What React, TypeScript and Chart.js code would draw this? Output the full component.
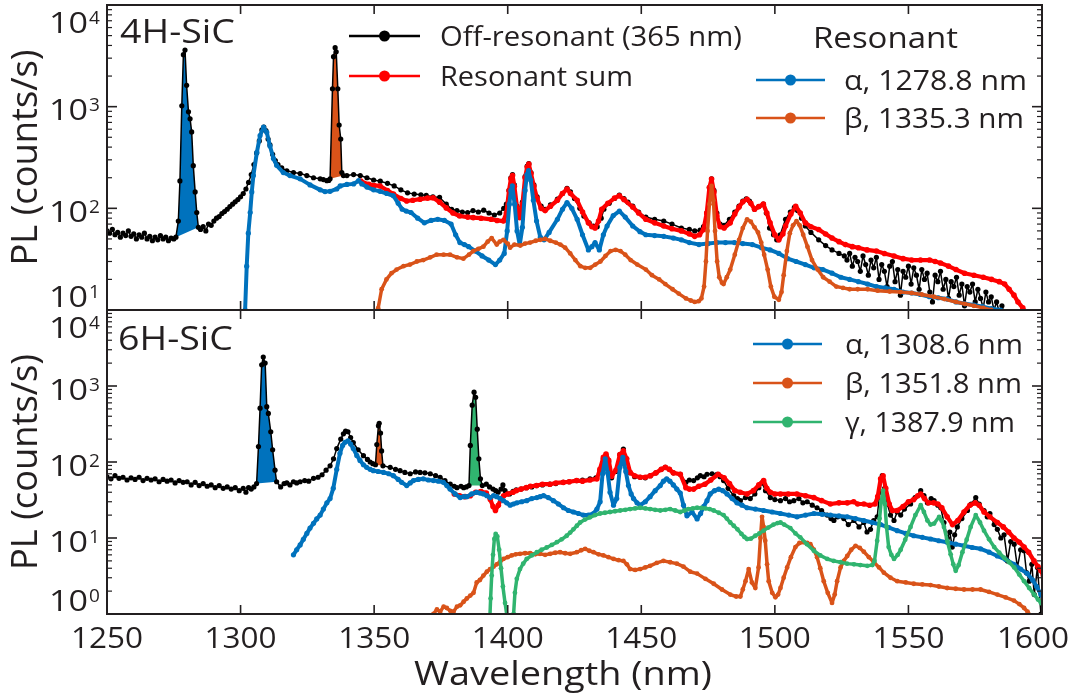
import React, { useEffect, useRef } from 'react';
import { Chart, registerables } from 'chart.js';

Chart.register(...registerables);

type Pt = [number, number];

// ---------- axis ticks / labels ----------
const X_TICKS = [1250, 1300, 1350, 1400, 1450, 1500, 1550, 1600];
const Y_DECADES_4H = [10, 100, 1000, 10000];
const Y_DECADES_6H = [1, 10, 100, 1000, 10000];
const X_TITLE = 'Wavelength (nm)';
const Y_TITLE = 'PL (counts/s)';
const PANEL_4H = '4H-SiC';
const PANEL_6H = '6H-SiC';
const LEGEND_4H_LEFT = ['Off-resonant (365 nm)', 'Resonant sum'];
const LEGEND_TITLE = 'Resonant';
const LEGEND_4H_RIGHT = ['α, 1278.8 nm', 'β, 1335.3 nm'];
const LEGEND_6H = ['α, 1308.6 nm', 'β, 1351.8 nm', 'γ, 1387.9 nm'];

// ---------- 4H-SiC data [nm, counts/s] ----------
const offRes4H: Pt[] = [
  [1250,60],[1251,57],[1252,62],[1253,55],[1254,58],[1255,52],[1256,57],[1257,54],[1258,60],[1259,53],[1260,56],[1261,50],[1262,55],[1263,52],[1264,57],[1265,50],[1266,53],[1267,48],[1268,52],[1269,49],[1270,54],[1271,50],[1272,52],[1273,48],[1274,51],[1275,50],
  [1275.8,52],[1276.7,75],[1277.3,186],[1278,1020],[1278.6,3250],[1279.2,3600],[1279.8,1620],[1280.5,890],[1281.1,760],[1281.7,565],[1282.3,263],[1283,145],[1283.6,91],[1284.2,65],
  [1285,62],[1286,66],[1287,60],[1288,70],[1289,68],[1290,75],[1291,80],[1292,83],[1293,89],[1294,93],[1295,98],[1296,104],[1297,110],[1298,116],[1299,122],[1300,130],[1301,140],[1302,155],[1303,180],[1304,215],[1305,270],[1306,350],[1307,460],[1308,590],[1308.7,630],[1309.5,580],[1310.3,480],[1311,420],[1312,340],[1313,295],[1314,270],[1315.4,250],[1317.3,234],[1319.8,225],[1322.3,220],[1324.8,210],[1327.3,200],[1329.8,195],[1331,192],[1332.3,187],[1333,188],
  [1333.5,195],[1334.4,1500],[1334.8,3100],[1335.4,3800],[1335.8,3460],[1336.4,1500],[1336.9,660],[1337.5,480],[1337.9,225],[1338.5,210],
  [1339.8,210],[1342.3,215],[1344.8,210],[1347.3,200],[1349.8,190],[1352.3,185],[1355,176],[1357.5,166],[1360,152],[1362.5,142],[1365,138],[1367.5,136],[1369.5,134],[1372,130],[1374.5,128],[1377,110],[1379,98],[1381,95],[1383,92],[1385,91],[1387,95],[1389,92],[1391,96],[1393,90],[1395,86],[1397,90],[1398.5,100],[1399.5,110],
  [1400.5,150],[1401.2,200],[1401.8,215],[1402.5,170],[1403.5,105],[1404.5,85],[1405.5,115],[1406.5,205],[1407.3,260],[1407.9,275],[1408.7,225],[1409.8,170],[1411,130],[1412.5,105],[1414,98],[1416,108],[1418.6,123],[1420.5,140],[1422.2,157],[1423.5,145],[1425,125],[1427,100],[1428.5,84],[1430.5,72],[1432,67],[1433.5,66],[1435,80],[1436,98],[1438,112],[1440,125],[1441.8,135],[1443.5,125],[1445,115],[1446.8,105],[1449,92],[1451.7,82],[1455,78],[1458.4,75],[1461.5,70],[1465,64],[1468,62],[1470,60],[1472,61],[1473.3,66],[1474.5,90],[1475.5,160],[1476.3,195],[1477.2,150],[1478.3,90],[1479.5,70],[1481,68],[1483,78],[1485,92],[1486.6,105],[1488,118],[1489.3,124],[1490.5,118],[1492.4,98],[1494,104],[1495.7,110],[1496.8,90],[1498,64],[1499.5,55],[1500.7,49],[1502,55],[1504,78],[1505.8,92],[1507.3,102],[1508.5,95],[1510,80],[1511.4,67],[1513.5,58],[1516.4,49],[1519,43],[1521.4,39],[1524,36],[1526,34],
  [1527,31],[1528,36],[1529,27],[1530,33],[1531,30],[1532,24],[1533,34],[1534,28],[1535,22],[1536,31],[1537,26],[1538,33],[1539,20],[1540,28],[1541,24],[1542,17],[1543,27],[1544,30],[1545,19],[1546,25],[1547,14],[1548,24],[1549,21],[1550,27],[1551,18],[1552,26],[1553,22],[1554,16],[1555,25],[1556,20],[1557,23],[1558,15],[1559,12],[1560,22],[1561,19],[1562,24],[1563,16],[1564,20],[1565,13],[1566,19],[1567,17],[1568,21],[1569,14],[1570,18],[1571,11],[1572,17],[1573,15],[1574,18],[1575,12],[1576,16],[1577,13],[1578,10.5],[1579,15],[1580,12],[1581,13.5],[1582,10],[1583,12],[1584,9.5],[1585,11],[1586,9],
];

const resSum4H: Pt[] = [
  [1345,185],[1348,172],[1350,168],[1352.2,166],[1355,150],[1357.2,138],[1360,125],[1362.2,118],[1364.5,120],[1367.2,123],[1370,126],[1372.1,127],[1374.5,115],[1377,101],[1379.5,90],[1382,84],[1385,82],[1387.1,81],[1390,80],[1393.8,78],[1396,76],[1398.4,75],[1399.5,90],
  [1400.5,150],[1401.2,195],[1401.8,210],[1402.5,165],[1403.5,100],[1404.5,81],[1405.5,110],[1406.5,200],[1407.3,255],[1407.9,272],[1408.7,220],[1409.8,165],[1411,125],[1412.5,100],[1414,95],[1416,105],[1418.6,120],[1420.5,140],[1422.2,155],[1423.5,140],[1426,120],[1428,92],[1430.2,72],[1431.5,66],[1432.7,64],[1434,75],[1435.2,98],[1437.5,112],[1440,126],[1441.8,133],[1443.5,122],[1446.8,103],[1449,90],[1451.7,78],[1455,72],[1458.4,67],[1461.5,63],[1465,60],[1468,56],[1470,53],[1471.8,55],[1473.3,62],[1474.5,90],[1475.5,160],[1476.3,194],[1477.2,145],[1478.3,84],[1479.5,66],[1481,64],[1483.3,72],[1485,88],[1486.6,103],[1488,116],[1489.6,123],[1491,112],[1492.4,98],[1494,104],[1495.7,110],[1497,90],[1498.2,72],[1500,55],[1501.5,49],[1503,56],[1504,67],[1506,88],[1507.8,105],[1509.5,90],[1511.4,72],[1513.5,66],[1516.4,62],[1519,56],[1521.4,51],[1524,47],[1526.4,44],[1529,42],[1531.3,41],[1534.5,39],[1538,38],[1541,36],[1544.6,34],[1548,32],[1551.2,31],[1554.5,31],[1557.9,31],[1560,30],[1562,29],[1565,27],[1567.8,25],[1571,23],[1574.5,22],[1578,21],[1581.1,20],[1584,19],[1586,18],[1587.7,16],[1589.5,14],[1591,12],[1592.8,10.5],[1594.4,9],
];

const alpha4H: Pt[] = [
  [1301.7,10],[1302.3,27],[1302.9,57],[1303.6,91],[1304.2,145],[1304.8,210],[1306.1,355],[1307.3,520],[1308.6,630],[1309.8,560],[1311,410],[1312.3,310],[1313.5,265],[1316,225],[1318.5,210],[1322.3,195],[1326,170],[1329.8,152],[1331.6,146],[1333.5,147],[1336,155],[1337.3,166],[1339.8,172],[1342.3,174],[1344.2,187],[1345.4,174],[1347.3,162],[1349.8,152],
  [1352.2,147],[1354.7,140],[1357.2,133],[1359,112],[1360.5,98],[1362,94],[1363.8,91],[1366.3,80],[1368.8,72],[1371.3,76],[1373.8,78],[1376.3,76],[1378.8,70],[1380.5,55],[1382.1,46],[1383.8,44],[1385.4,42],[1387.9,38],[1390.4,34],[1392.9,31],[1395.4,28],[1397,31],[1398.7,36],[1399.8,60],[1400.6,110],[1401.2,150],
  [1401.7,166],[1402.6,110],[1403.5,60],[1404.5,44],[1405.5,65],[1406.5,150],[1407.2,215],[1407.8,235],[1408.6,190],[1409.6,120],[1410.8,75],[1412.2,52],[1413.6,49],[1415.5,58],[1418.6,78],[1420.5,98],[1422.2,114],[1424,100],[1426,78],[1428,55],[1430.2,39],[1431.5,42],[1432.7,46],[1434.3,39],[1435.8,55],[1437.2,67],[1439.5,85],[1441.8,94],[1444,82],[1446.8,67],[1449.5,59],[1451.7,55],[1455,54],[1458.4,53],[1462,51],[1465,49],[1468,46],[1471.6,44],[1475,45],[1478.3,46],[1481.5,46],[1484.9,46],[1488,45],[1491.6,44],[1495,41],[1498.2,39],[1501.5,36],[1504.8,32],[1508,30],[1511.4,28],[1514.7,26],[1518,25],[1521.4,23],[1524.7,21],[1528,20],[1531.3,19],[1534.7,18],[1538,17],[1541.3,16.5],[1544.6,16],[1548,15],[1551.2,14.7],[1554.5,14.2],[1557.9,13.5],[1561.2,13.2],[1564.5,12.8],[1567.8,12],[1571.2,11.5],[1574.5,11.2],[1577.8,10.8],[1581.1,10.3],[1584.5,10],[1586,9.5],
];

const beta4H: Pt[] = [
  [1351.5,10.4],[1352.8,16],[1354.6,20],[1356.5,23],[1358.4,25],[1361,27],[1363.4,28],[1366,30],[1368.4,31],[1371,33],[1373.4,35],[1376,35],[1378.4,35],[1381,33],[1383.4,32],[1385.5,35],[1387.1,38],[1389,40],[1390.9,42],[1392.5,47],[1394,51],[1395.9,44],[1397,47],[1398.4,49],[1400,45],[1400.9,41],[1402.5,44],[1404.7,43],[1406.5,45],[1408.4,46],[1410.5,48],[1412.2,49],[1414,50],[1415.9,48],[1418,46],[1419.7,44],[1421.5,41],[1423.4,36],[1425.3,31],[1427.2,27],[1429,26],[1430.9,26],[1432.8,28],[1434.7,30],[1436.6,34],[1438.5,38],[1440.4,39],[1442.2,38],[1444,35],[1446,31],[1448.5,28],[1451.7,25],[1454,22],[1456.7,20],[1459,18],[1461.7,16],[1464,14.5],[1466.7,13],[1468.5,12.4],[1470,12],[1471.5,12.2],[1472.5,13],[1473.5,17],[1474.2,30],[1474.8,60],[1475.5,110],[1476.3,166],[1477,120],[1477.6,60],[1478.4,30],[1479.2,21],[1480.2,18.5],[1480.8,18],[1482,21],[1483.3,25],[1485,35],[1486.6,49],[1488,64],[1489.6,78],[1491,74],[1492.4,65],[1493.7,58],[1494.9,46],[1496,35],[1497.3,25],[1498.5,17],[1499.8,13.5],[1501.5,12.6],[1502.5,15],[1503.3,22],[1504.5,38],[1505.6,57],[1506.8,68],[1508.1,75],[1509.3,68],[1510.6,55],[1512.2,42],[1513.9,31],[1516,25],[1518.1,21],[1520.5,19],[1523,17],[1525.5,16.5],[1528,16],[1531,16],[1534.7,16],[1538.5,15.5],[1543,15.2],[1547,15],[1551.2,14.7],[1555,14.2],[1559.5,13.5],[1563.5,12.8],[1567.8,12],[1571,11.5],[1574.5,11],[1578,10.5],[1581,10],[1583,9.5],
];

// ---------- 6H-SiC data [nm, counts/s] ----------
const offRes6H: Pt[] = [
  [1250,64],[1251.5,60],[1253,66],[1254.5,61],[1256,63],[1257.5,58],[1259,62],[1260.5,59],[1262,63],[1263.5,57],[1265,61],[1266.5,58],[1268,60],[1269.5,55],[1271,59],[1272.5,56],[1274,58],[1275.5,53],[1277,57],[1278.5,54],[1280,55],[1281.5,50],[1283,54],[1284.5,49],[1286,52],[1287.5,48],[1289,50],[1290.5,46],[1292,49],[1293.5,45],[1295,47],[1296.5,44],[1298,46],[1299.5,42],[1301,45],[1302,40],[1303,46],[1304,44],[1305,47],
  [1306,52],[1306.7,160],[1307.3,510],[1307.9,1900],[1308.5,2400],[1309.2,2000],[1309.8,535],[1310.4,435],[1311.3,250],[1312,145],[1312.9,78],[1313.5,55],
  [1315,47],[1316.3,52],[1317.3,53],[1318.5,50],[1319.8,55],[1321,53],[1322.3,55],[1324,57],[1325.5,56],[1327.3,61],[1329,63],[1330.5,68],[1332,78],[1333.5,89],[1334.8,110],[1336,150],[1337.5,200],[1338.5,235],[1339.3,255],[1340.2,250],[1341.2,210],[1342.2,180],[1344,145],[1346,121],[1347.5,108],[1348.5,100],[1349.5,95],
  [1350.5,92],[1351,170],[1351.6,300],[1351.9,323],[1352.4,240],[1352.8,140],[1353.3,89],
  [1356,85],[1358,80],[1359.7,77],[1361.5,73],[1363.5,70],[1365.5,74],[1367.2,73],[1369,72],[1371,70],[1373,66],[1374.7,63],[1376.5,57],[1378.5,51],[1380,48],[1381,46],[1382.5,48],[1383.5,46],[1384.5,47],
  [1385.5,49],[1386,165],[1386.7,560],[1387.4,830],[1388,710],[1388.6,270],[1389.2,110],[1389.8,60],[1390.5,49],
  [1392,51],[1393.2,47],[1394.5,44],[1395.5,42],[1396.4,40],[1397.5,44],[1398.2,50],[1399,42],[1400.7,38],[1402,41],[1403.2,43],[1405,44],[1407,46],[1409,47],[1410.8,49],[1413,50],[1415.8,51],[1418,52],[1420.8,54],[1423,55],[1425.8,57],[1428,58],[1430.8,60],[1433,62],[1434.5,75],[1435.8,110],[1436.8,121],[1437.8,100],[1438.9,62],[1440.5,75],[1442,125],[1443.3,148],[1444.5,110],[1445.8,72],[1447.5,64],[1449.6,63],[1451.5,62],[1453.4,66],[1455.5,72],[1457.5,80],[1459,85],[1460.5,80],[1462,72],
  [1464.6,69],[1466.7,54],[1468,58],[1469.6,57],[1471,62],[1472.1,66],[1473.5,64],[1474.6,69],[1476.5,70],[1478.4,69],[1479.5,64],[1480.8,57],[1482.5,45],[1484.6,36],[1486,33],[1487.1,31],[1489,34],[1490.8,33],[1492.5,38],[1494,46],[1495.2,53],[1496.5,42],[1498.3,34],[1500,32],[1502.1,31],[1504,33],[1505.5,30],[1507.1,31],[1509,33],[1510.5,29],[1512.1,30],[1514,27],[1515.8,25],[1517.5,23],[1519.6,20],[1521,18],[1522.1,17],[1523.5,19],[1525.8,18],[1527.5,15],[1529.6,17],[1531.5,14],[1533.3,16],[1534.5,12],[1535.8,13],[1537,17],[1538.3,19],[1539.3,40],[1540.2,66],[1541.1,45],[1542.1,28],[1543.3,20],[1544.6,17],[1545.8,22],[1547.1,20],[1548.5,24],[1550.8,28],[1552.5,34],[1554.6,42],[1555.8,36],[1557.1,29],[1558.5,33],[1559.6,31],[1561,27],[1562.1,25],[1563.3,16],[1564.6,10],[1565.5,12],[1566.4,7.6],[1567.3,11],[1568.3,14],[1570,18],[1572.1,23],[1573.5,28],[1575.2,34],[1576.5,28],[1578.3,23],[1579.5,19],[1580.5,21],[1582.1,15],[1583.3,13],[1584.6,10],[1585.8,11],[1587.1,5],[1588.3,9],[1589.6,8.3],[1590.8,4.1],[1592,7],[1593.3,6.8],[1594.2,3.5],[1595.2,2.7],[1596.2,4.5],[1597.1,1.8],[1598.3,4.1],[1599.6,1],
];

const resSum6H: Pt[] = [
  [1380,38],[1382,36],[1384,35],[1386,36],[1388,40],[1390,41],[1392,39],[1393.5,32],[1394.5,26],[1395.4,23],[1396.5,27],[1397.5,33],[1398.5,36],[1400,38],[1402,40],[1403.2,42],[1405,44],[1407,46],[1408.5,48],[1410.8,49],[1413,51],[1415.8,51],[1418,53],[1420.8,54],[1423,55],[1425.8,57],[1428,56],[1430.8,58],[1433.4,60],[1434.5,80],[1435.8,115],[1436.8,127],[1437.8,105],[1438.9,65],[1440.5,78],[1442,125],[1443.3,140],[1444.5,110],[1445.8,73],[1447.5,66],[1449.6,63],[1451.5,63],[1453.4,66],[1455.5,72],[1457.5,80],[1459,85],[1460.5,80],[1462,72],[1464.6,69],[1466.7,46],[1468,44],[1469.6,44],[1471.5,48],[1473.8,51],[1476,58],[1478.8,69],[1481,62],[1483,52],[1485,42],[1487,40],[1489.6,38],[1492,42],[1494,50],[1495.8,57],[1497,45],[1498.3,40],[1500,38],[1502.1,38],[1505,38],[1508.3,38],[1511.5,36],[1514.6,34],[1517.5,31],[1520.8,28],[1524,29],[1527.1,29],[1529.5,30],[1531,28],[1533.3,28],[1535.5,27],[1537.5,28],[1538.5,35],[1539.6,60],[1540.5,66],[1541.5,45],[1542.8,28],[1544,23],[1545.8,23],[1548,26],[1550,30],[1552,32],[1553.5,36],[1554.6,38],[1556,33],[1557.5,29],[1559.5,29],[1561,28],[1562.5,25],[1564.5,19],[1566.5,15],[1568.5,17],[1570.8,22],[1573,27],[1575,29],[1576.5,27],[1578.3,22],[1580.5,19],[1583.3,16],[1585.5,14],[1587.5,12],[1589.5,10],[1591.5,8.8],[1593.3,7.6],[1595,6.5],[1597,5],[1598.5,4.2],[1599.6,3.7],[1600.5,3.2],
];

const alpha6H: Pt[] = [
  [1319.8,6],[1321,7],[1322.3,8.1],[1323.5,9.6],[1324.8,11.5],[1326,13.5],[1327.3,15.6],[1328.5,17.8],[1329.8,20],[1331,24],[1332.3,29],[1333.5,33],[1334.7,45],[1336,80],[1337.2,130],[1338.2,165],[1339.1,182],[1340.2,190],[1341.2,172],[1342.2,150],[1343.5,122],[1344.7,105],[1346,92],[1347.2,85],[1348.5,80],[1349.7,77],[1351.5,75],[1353.5,73],[1355.5,70],[1357.2,66],[1359,59],[1360.3,54],[1362.2,49],[1363.5,53],[1364.7,57],[1366.5,59],[1368.4,60],[1370.3,58],[1372.2,57],[1374,56],[1375.9,54],[1377.2,49],[1378.4,44],[1380.3,38],[1382.2,34],[1383.5,35],[1384.7,35],[1386.5,38],[1388.4,40],[1389.6,39],[1390.9,38],[1392.2,36],[1393.4,34],[1394.7,36],[1395.9,35],[1397.2,33],[1398.4,31],[1399.6,29],[1400.9,27],[1402.1,28],[1403.4,29],[1405.2,30],[1407.1,31],[1409,33],[1410.9,34],[1412.1,35],[1413.4,36],[1415.2,34],[1417.1,31],[1419,28],[1420.9,25],[1422.7,23],[1424.6,22],[1426.5,21],[1428.3,20],[1430.2,20],[1432.1,21],[1433.4,24],[1434.6,30],[1435.5,70],[1436.5,110],[1437.4,72],[1438.3,40],[1439.6,27],[1440.8,33],[1442,85],[1443.1,115],[1444.2,75],[1445.2,49],[1446.2,38],[1447.1,33],[1448.4,29],[1449.6,27],[1451.5,30],[1453.3,35],[1455.2,42],[1457.1,49],[1458.3,56],[1459.5,60],[1460.7,56],[1462,50],[1463.3,44],[1464.6,39],[1465.8,27],[1467.1,19.6],[1469,22],[1470.9,17.8],[1472.2,21],[1473.4,26],[1474.6,31],[1475.8,38],[1477.4,42],[1479,44],[1480.5,42],[1482.1,38],[1484,33],[1485.8,29],[1487.7,27],[1489.6,25],[1492.7,24],[1495.8,23],[1499,22],[1502.1,21],[1505.2,20],[1508.3,19],[1511.5,20],[1514.6,21],[1517.7,20.5],[1520.8,20],[1524,19.5],[1527.1,19],[1530.2,18],[1533.3,17],[1536.5,16],[1539.6,15],[1542.7,13.7],[1545.8,12.5],[1549,11.5],[1552,10.7],[1555.2,10.2],[1558.3,9.7],[1561.4,9.2],[1564.5,8.8],[1567.7,8.3],[1570.8,7.9],[1573.9,7.5],[1577,7.2],[1580.2,6.5],[1583.3,5.8],[1586.4,5.2],[1589.5,4.5],[1592,3.9],[1594.5,3.4],[1596.5,2.8],[1598,2.3],[1599.6,1.8],[1601,1.5],
];

const beta6H: Pt[] = [
  [1372.2,1],[1373.5,1.15],[1374.7,1.07],[1376,1.25],[1377.2,1.2],[1378.5,1.1],[1379.7,1.07],[1381,1.25],[1382.2,1.3],[1383.5,1.45],[1384.7,1.6],[1386,1.75],[1387.2,1.9],[1388.4,2.6],[1389.6,2.8],[1390.9,3.2],[1392.2,3.6],[1393.4,3.9],[1394.7,4.2],[1395.9,4.5],[1397.2,4.9],[1398.4,5.3],[1400,5.6],[1401.5,5.9],[1403,6.1],[1404.6,6.2],[1406.5,6.3],[1408.4,6.3],[1410.3,6.1],[1412.1,6.2],[1414,6.0],[1415.9,6.2],[1417.8,6.4],[1419.6,6.5],[1421.5,6.3],[1423.4,6.2],[1425.9,6.5],[1427.5,6.9],[1429,7.2],[1430.5,6.8],[1432.1,6.5],[1434,6.1],[1435.8,5.9],[1437.7,5.6],[1439.6,5.3],[1441.5,5.1],[1443.3,5],[1444.6,4.5],[1445.8,3.9],[1447.7,3.8],[1449.6,3.9],[1451.5,4.1],[1453.3,4.3],[1455.8,4.7],[1458.3,5],[1460.8,4.8],[1463.3,4.6],[1465.8,4.2],[1468.3,3.6],[1470.9,3.4],[1474,2.9],[1477.1,2.5],[1480.2,2.1],[1483.3,1.8],[1485.5,1.7],[1487.1,1.7],[1488,2.1],[1489,2.7],[1490.2,3.9],[1491.4,2.6],[1492.7,2.2],[1493.9,4.1],[1494.6,10],[1495.2,19],[1495.8,14],[1496.4,9.2],[1497.1,4.5],[1497.7,2.7],[1499,1.9],[1500.2,1.66],[1501.2,1.8],[1502.1,2.2],[1503.3,3],[1504.6,4.1],[1506,5.6],[1507.7,7.6],[1509.2,8.6],[1510.8,8.8],[1512.1,8.6],[1513.3,8.3],[1514.6,7],[1515.8,5.6],[1517,4],[1518.3,2.7],[1519.8,1.9],[1521.4,1.4],[1522.4,1.8],[1523.3,2.7],[1524.6,4.1],[1525.8,5],[1527.1,5.8],[1528.6,7],[1530.2,7.9],[1531.8,7.4],[1533.3,6.6],[1535.2,5.6],[1537.1,4.8],[1539,4.1],[1540.8,3.5],[1543.3,3],[1545.8,2.7],[1549,2.6],[1552,2.5],[1555.2,2.45],[1558.3,2.4],[1561.4,2.3],[1564.5,2.2],[1567.7,2.15],[1570.8,2.1],[1574,2.1],[1577,2.1],[1580.2,1.95],[1583.3,1.8],[1586.4,1.65],[1589.5,1.5],[1591.5,1.35],[1593.3,1.2],[1594.6,1.07],[1595.8,0.95],[1597,0.8],
];

const gamma6H: Pt[] = [
  [1393.2,0.7],[1393.6,1.6],[1394,3.2],[1394.5,6],[1395,9.7],[1395.5,11.3],[1396.1,10.5],[1396.8,7],[1397.5,4],[1398.2,2.3],[1399,1.4],[1399.8,0.9],[1400.5,0.4],[1401.6,0.4],[1402.2,1],[1402.7,1.9],[1403.4,2.9],[1404.6,3.9],[1405.8,4.6],[1407.1,5.3],[1409,5.9],[1410.9,6.5],[1412.7,7],[1414.6,7.5],[1416.5,8.1],[1418.4,8.8],[1420.2,9.6],[1422.1,10.7],[1423.4,11.8],[1424.6,13],[1425.9,14.5],[1427.1,16],[1428.9,17.5],[1430.8,18.7],[1432.7,20],[1434.6,21],[1436.4,21.5],[1438.3,22],[1440.2,22.5],[1442.1,23],[1444,23.5],[1445.8,24],[1447.7,24.5],[1449.6,25],[1451.5,24.5],[1453.3,24],[1455.2,23.5],[1457.1,23],[1459,23.5],[1460.8,24],[1462.7,23],[1464.6,22],[1466.2,23],[1467.6,24],[1469.3,24.5],[1470.9,25],[1472.5,24.8],[1474,24.5],[1475.6,24],[1477.1,23],[1479,21.5],[1480.8,20],[1482,18],[1483.3,16],[1484.6,14.5],[1486,13],[1487.5,11.3],[1488.6,10.3],[1489.6,9.7],[1491,9.8],[1492.7,10.7],[1494.2,11.5],[1495.8,12.5],[1497.5,13.7],[1499.5,15],[1501,15.7],[1502.1,16],[1503.5,15],[1505.8,13.5],[1507.7,11.5],[1509.5,10.2],[1512,8.3],[1514.6,6.8],[1517,5.9],[1519.6,5.3],[1522,5],[1524.6,4.8],[1527,4.6],[1529.6,4.5],[1532,4.4],[1534.6,4.3],[1536.5,4.4],[1537.3,5],[1538.3,9.2],[1539.2,18],[1539.8,30],[1540.5,42],[1541.2,28],[1541.8,14],[1542.6,7.6],[1543.6,6],[1544.6,5.3],[1546,6],[1547.1,7],[1548.8,9.5],[1550.8,14],[1552.6,20],[1554.6,27],[1555.8,22],[1557.1,17],[1558.3,15],[1559.6,15.5],[1561.5,19],[1562.4,17],[1563.3,14],[1564.6,9],[1565.8,6.1],[1566.8,4.5],[1567.7,3.7],[1568.8,4.4],[1570.2,6.5],[1571.8,9.5],[1573.3,14],[1575.2,20],[1576.8,16],[1578.3,12.5],[1580.2,9.6],[1582.1,7.6],[1584,6.4],[1585.8,5.5],[1587.7,4.8],[1589.6,4.1],[1591.5,3.3],[1593.3,2.7],[1595.2,2.2],[1597.1,1.8],[1598.5,1.55],[1599.6,1.4],[1601,1.2],
];

// wavelength windows of the shaded laser-line peaks
const PEAKS_4H: { range: Pt; color: string }[] = [
  { range: [1275.8, 1284.2], color: '#0072bd' },
  { range: [1333.5, 1338.5], color: '#d95319' },
];
const PEAKS_6H: { range: Pt; color: string }[] = [
  { range: [1306, 1313.5], color: '#0072bd' },
  { range: [1350.5, 1353.3], color: '#d95319' },
  { range: [1385.5, 1390.5], color: '#30b46f' },
];

// ---------- styling ----------
const INK = '#231f20';
const C_BLACK = '#000000';
const C_RED = '#ff0000';
const C_BLUE = '#0072bd';
const C_ORANGE = '#d95319';
const C_GREEN = '#30b46f';
const FONT = '"Open Sans", "Noto Sans", "DejaVu Sans", sans-serif';
const W = 1073;
const H = 696;

function drawText(ctx: CanvasRenderingContext2D, s: string, x: number, y: number, size: number, align: 'left' | 'center' | 'right', width?: number) {
  ctx.save();
  ctx.font = `${size}px ${FONT}`;
  ctx.textBaseline = 'alphabetic';
  ctx.textAlign = 'left';
  ctx.fillStyle = INK;
  const natural = ctx.measureText(s).width;
  const sx = width ? width / natural : 1;
  const w = natural * sx;
  const x0 = align === 'left' ? x : align === 'center' ? x - w / 2 : x - w;
  ctx.translate(x0, y);
  ctx.scale(sx, 1);
  ctx.fillText(s, 0, 0);
  ctx.restore();
}

function legendLine(ctx: CanvasRenderingContext2D, x1: number, x2: number, y: number, color: string) {
  ctx.save();
  ctx.strokeStyle = color;
  ctx.fillStyle = color;
  ctx.lineWidth = 2.5;
  ctx.beginPath();
  ctx.moveTo(x1, y);
  ctx.lineTo(x2, y);
  ctx.stroke();
  ctx.beginPath();
  ctx.arc((x1 + x2) / 2, y, 5.5, 0, Math.PI * 2);
  ctx.fill();
  ctx.restore();
}

function seg(ctx: CanvasRenderingContext2D, x1: number, y1: number, x2: number, y2: number) {
  ctx.beginPath();
  ctx.moveTo(x1, y1);
  ctx.lineTo(x2, y2);
  ctx.stroke();
}

function lineDs(label: string, data: Pt[], color: string, bw: number, pr: number, order: number) {
  return {
    label,
    data: data.map(([x, y]) => ({ x, y })),
    borderColor: color,
    backgroundColor: color,
    pointBackgroundColor: color,
    pointBorderWidth: 0,
    borderWidth: bw,
    pointRadius: pr,
    pointHoverRadius: pr,
    fill: false,
    tension: 0,
    borderJoinStyle: 'round',
    order,
    clip: 0,
  };
}

function peakDs(src: Pt[], range: Pt, color: string) {
  return {
    label: 'peak',
    data: src.filter(([x]) => x >= range[0] && x <= range[1]).map(([x, y]) => ({ x, y })),
    borderWidth: 0,
    borderColor: 'rgba(0,0,0,0)',
    backgroundColor: color,
    pointRadius: 0,
    fill: 'shape',
    tension: 0,
    order: 9,
    clip: 0,
  };
}

function decor(decades: number[], bottomPanel: boolean) {
  return {
    id: bottomPanel ? 'decor6H' : 'decor4H',
    afterDraw(chart: any) {
      const ctx: CanvasRenderingContext2D = chart.ctx;
      const { left, right, top, bottom } = chart.chartArea;
      const xs = chart.scales.x;
      const ys = chart.scales.y;
      ctx.save();
      ctx.strokeStyle = INK;
      ctx.lineWidth = 1.6;
      for (const t of X_TICKS) {
        if (t <= X_TICKS[0] || t >= X_TICKS[X_TICKS.length - 1]) continue;
        const px = xs.getPixelForValue(t);
        seg(ctx, px, top, px, top + 9);
        seg(ctx, px, bottom, px, bottom - 9);
      }
      for (let i = 0; i < decades.length; i++) {
        const d = decades[i];
        const py = ys.getPixelForValue(d);
        if (py > top + 1 && py < bottom - 1) {
          ctx.lineWidth = 1.6;
          seg(ctx, left, py, left + 10, py);
          seg(ctx, right, py, right - 10, py);
        }
        if (i < decades.length - 1) {
          ctx.lineWidth = 1.2;
          for (let m = 2; m <= 9; m++) {
            const p = ys.getPixelForValue(d * m);
            seg(ctx, left, p, left + 5, p);
            seg(ctx, right, p, right - 5, p);
          }
        }
      }
      ctx.lineWidth = 2;
      ctx.strokeRect(left, top, right - left, bottom - top);
      ctx.restore();

      for (const d of decades) {
        const py = ys.getPixelForValue(d);
        const c = Math.min(Math.max(py + 3, top + 17), bottom - 14);
        drawText(ctx, '10', 88, c + 10.5, 30, 'right', 39);
        drawText(ctx, String(Math.round(Math.log10(d))), 89, c + 1.5, 19, 'left');
      }

      ctx.save();
      ctx.translate(37, (top + bottom) / 2);
      ctx.rotate(-Math.PI / 2);
      drawText(ctx, Y_TITLE, 0, 0, 37, 'center', 216);
      ctx.restore();

      if (!bottomPanel) {
        drawText(ctx, PANEL_4H, 120, 43, 32, 'left', 115);
        legendLine(ctx, 349, 420, 36, C_BLACK);
        drawText(ctx, LEGEND_4H_LEFT[0], 440, 46, 27, 'left', 302);
        legendLine(ctx, 349, 420, 76, C_RED);
        drawText(ctx, LEGEND_4H_LEFT[1], 440, 86, 27, 'left', 193);
        drawText(ctx, LEGEND_TITLE, 813, 48, 29, 'left', 145);
        legendLine(ctx, 756, 825, 80, C_BLUE);
        drawText(ctx, LEGEND_4H_RIGHT[0], 844, 90, 27, 'left', 183);
        legendLine(ctx, 756, 825, 118, C_ORANGE);
        drawText(ctx, LEGEND_4H_RIGHT[1], 844, 128, 27, 'left', 180);
      } else {
        drawText(ctx, PANEL_6H, 118, 350, 32, 'left', 115);
        legendLine(ctx, 753, 822, 344, C_BLUE);
        drawText(ctx, LEGEND_6H[0], 845, 353.5, 27, 'left', 178);
        legendLine(ctx, 753, 822, 383, C_ORANGE);
        drawText(ctx, LEGEND_6H[1], 845, 392.5, 27, 'left', 177);
        legendLine(ctx, 753, 822, 422, C_GREEN);
        drawText(ctx, LEGEND_6H[2], 845, 431.5, 27, 'left', 170);
        for (const t of X_TICKS) {
          const px = xs.getPixelForValue(t);
          const cx = t === X_TICKS[X_TICKS.length - 1] ? px - 9 : px;
          drawText(ctx, String(t), cx, 648, 30, 'center', 72);
        }
        drawText(ctx, X_TITLE, 563, 685, 33, 'center', 298);
      }
    },
  };
}

function baseOptions(padding: { left: number; top: number; right: number; bottom: number }, yMin: number, yMax: number) {
  return {
    animation: false as const,
    responsive: false,
    maintainAspectRatio: false,
    devicePixelRatio: 1,
    events: [] as any[],
    layout: { padding },
    scales: {
      x: { type: 'linear' as const, min: X_TICKS[0], max: X_TICKS[X_TICKS.length - 1], display: false },
      y: { type: 'logarithmic' as const, min: yMin, max: yMax, display: false },
    },
    plugins: { legend: { display: false }, tooltip: { enabled: false } },
  };
}

export default function App() {
  const topRef = useRef<HTMLCanvasElement>(null);
  const botRef = useRef<HTMLCanvasElement>(null);

  useEffect(() => {
    if (!topRef.current || !botRef.current) return;
    const top = new Chart(topRef.current, {
      type: 'line',
      data: {
        datasets: [
          lineDs('α, 1278.8 nm', alpha4H, C_BLUE, 4, 2.6, 3),
          lineDs('β, 1335.3 nm', beta4H, C_ORANGE, 3.5, 2.4, 2),
          lineDs('Resonant sum', resSum4H, C_RED, 4.2, 2.8, 4),
          lineDs('Off-resonant (365 nm)', offRes4H, C_BLACK, 1.5, 2.6, 5),
          ...PEAKS_4H.map((p) => peakDs(offRes4H, p.range, p.color)),
        ] as any,
      },
      options: baseOptions({ left: 107, top: 5, right: W - 1042, bottom: H - 310 }, Y_DECADES_4H[0], Y_DECADES_4H[Y_DECADES_4H.length - 1]) as any,
      plugins: [decor(Y_DECADES_4H, false)],
    });
    const bot = new Chart(botRef.current, {
      type: 'line',
      data: {
        datasets: [
          lineDs('α, 1308.6 nm', alpha6H, C_BLUE, 4, 2.6, 3),
          lineDs('β, 1351.8 nm', beta6H, C_ORANGE, 3.5, 2.4, 2),
          lineDs('γ, 1387.9 nm', gamma6H, C_GREEN, 3.5, 2.4, 1),
          lineDs('Resonant sum', resSum6H, C_RED, 4.2, 2.8, 4),
          lineDs('Off-resonant (365 nm)', offRes6H, C_BLACK, 1.5, 2.6, 5),
          ...PEAKS_6H.map((p) => peakDs(offRes6H, p.range, p.color)),
        ] as any,
      },
      options: baseOptions({ left: 107, top: 310, right: W - 1042, bottom: H - 614 }, Y_DECADES_6H[0], Y_DECADES_6H[Y_DECADES_6H.length - 1]) as any,
      plugins: [decor(Y_DECADES_6H, true)],
    });
    return () => {
      top.destroy();
      bot.destroy();
    };
  }, []);

  return (
    <div style={{ position: 'fixed', left: 0, top: 0, width: W, height: H, background: '#fff' }}>
      <canvas ref={topRef} width={W} height={H} style={{ position: 'absolute', left: 0, top: 0, width: W, height: H }} />
      <canvas ref={botRef} width={W} height={H} style={{ position: 'absolute', left: 0, top: 0, width: W, height: H }} />
    </div>
  );
}
